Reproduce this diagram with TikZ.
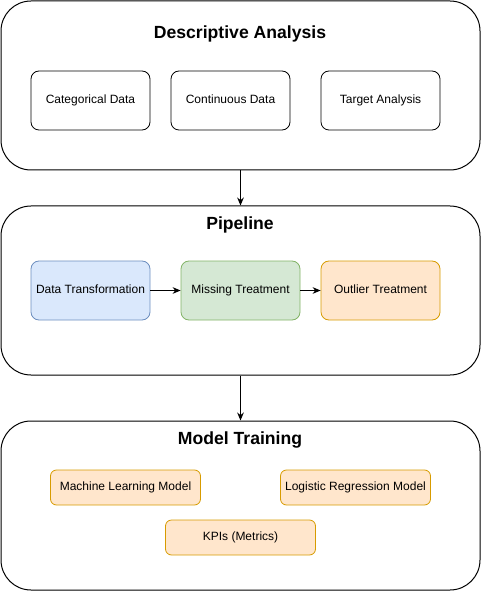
\documentclass[tikz,border=0pt]{standalone}
\usepackage{fontspec}
\setmainfont{Liberation Sans}
\usetikzlibrary{arrows.meta}
\definecolor{bluefill}{HTML}{DAE8FC}
\definecolor{bluedraw}{HTML}{6C8EBF}
\definecolor{greenfill}{HTML}{D5E8D4}
\definecolor{greendraw}{HTML}{82B366}
\definecolor{orangefill}{HTML}{FFE6CC}
\definecolor{orangedraw}{HTML}{D79B00}
\tikzset{
  group/.style={draw,rounded corners=22.5pt,minimum width=359.25pt,minimum height=126.75pt,line width=0.75pt},
  title/.style={font=\fontsize{13.2}{15}\selectfont\bfseries},
  item/.style={draw,rounded corners=6pt,minimum width=89.25pt,minimum height=44.25pt,font=\fontsize{9}{11}\selectfont,text height=6.5pt,text depth=1.9pt,line width=0.6pt},
  model/.style={item,minimum width=112.5pt,minimum height=26.25pt,rounded corners=4.5pt,fill=orangefill,draw=orangedraw},
  link/.style={-{Stealth[length=6pt,width=5pt]},line width=0.75pt}
}
\begin{document}
\begin{tikzpicture}[x=0.75pt,y=-0.75pt]
\useasboundingbox (0,0) rectangle (481,591);
% descriptive analysis
\node[group] (desc) at (240.5,85.5){};
\node[title] (desctitle) at (240,34){Descriptive Analysis};
\node[item] (cat) at (90.5,100.5){Categorical Data};
\node[item] (cont) at (230.5,100.5){Continuous Data};
\node[item] (target) at (380.5,100.5){Target Analysis};
% pipeline
\node[group] (pipe) at (240.5,290.5){};
\node[title] (pipetitle) at (240,225){Pipeline};
\node[item,fill=bluefill,draw=bluedraw] (trans) at (90.5,290.5){Data Transformation};
\node[item,fill=greenfill,draw=greendraw] (miss) at (240.5,290.5){Missing Treatment};
\node[item,fill=orangefill,draw=orangedraw] (outl) at (380.5,290.5){Outlier Treatment};
% model training
\node[group] (train) at (240.5,505.5){};
\node[title] (traintitle) at (240,440){Model Training};
\node[model] (ml) at (125.5,487.5){Machine Learning Model};
\node[model] (logit) at (355.5,487.5){Logistic Regression Model};
\node[model] (kpi) at (240.5,537.5){KPIs (Metrics)};
% connectors
\draw[link] (desc) -- (pipe);
\draw[link] (pipe) -- (train);
\draw[link] (trans) -- (miss);
\draw[link] (miss) -- (outl);
\end{tikzpicture}
\end{document}
